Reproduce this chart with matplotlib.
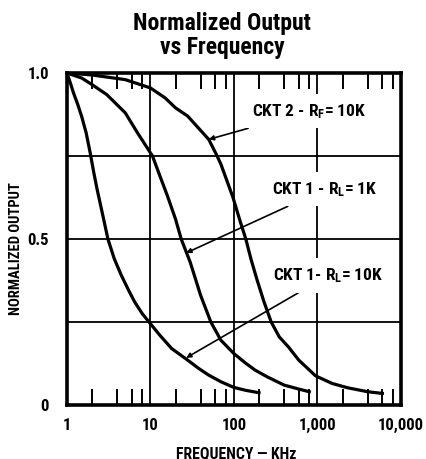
import matplotlib
matplotlib.use("Agg")
import matplotlib.pyplot as plt
from matplotlib import font_manager

# Police étroite et grasse si disponible
names = {f.name for f in font_manager.fontManager.ttflist}
FONT = "DejaVu Sans"
for cand in ["Liberation Sans Narrow", "Roboto Condensed", "Open Sans Condensed", "Roboto"]:
    if cand in names:
        FONT = cand
        break
plt.rcParams["font.family"] = [FONT, "DejaVu Sans"]
plt.rcParams["font.weight"] = "bold"
plt.rcParams["mathtext.fontset"] = "custom"
plt.rcParams["mathtext.rm"] = FONT + ":bold"
plt.rcParams["mathtext.it"] = FONT + ":bold"
plt.rcParams["mathtext.bf"] = FONT + ":bold"

# Courbes (fréquence en kHz, sortie normalisée)
freq_rl10k = [1, 1.1, 1.2, 1.35, 1.5, 1.7, 1.9, 2.1, 2.3, 2.7, 3.1, 3.7, 4.5, 5.5, 6.5,
              8, 10, 13, 18, 27, 38, 50, 70, 100, 140, 200]
out_rl10k = [1.0, 0.97, 0.94, 0.905, 0.87, 0.82, 0.76, 0.70, 0.65, 0.57, 0.5, 0.44, 0.39,
             0.345, 0.31, 0.275, 0.245, 0.21, 0.17, 0.138, 0.11, 0.09, 0.07, 0.053, 0.044, 0.037]

freq_rl1k = [1, 1.5, 2, 3, 5, 7, 10.6, 13, 16, 20, 23.4, 30, 40, 53, 70, 100, 140, 180,
             250, 400, 600, 800]
out_rl1k = [1.0, 0.985, 0.965, 0.935, 0.88, 0.82, 0.75, 0.69, 0.63, 0.56, 0.5, 0.43, 0.33,
            0.25, 0.195, 0.155, 0.125, 0.105, 0.085, 0.06, 0.048, 0.04]

freq_rf10k = [1, 2, 5, 10, 15, 20, 28, 35, 50, 63, 70, 97, 120, 139, 160, 190, 230, 280,
              350, 450, 600, 950, 1500, 2300, 4000, 6000]
out_rf10k = [1.0, 0.994, 0.98, 0.955, 0.925, 0.895, 0.87, 0.843, 0.8, 0.75, 0.725, 0.627,
             0.55, 0.5, 0.44, 0.376, 0.31, 0.25, 0.205, 0.175, 0.135, 0.088, 0.065, 0.052,
             0.04, 0.035]

x_ticks = [1, 10, 100, 1000, 10000]
x_tick_labels = ["1", "10", "100", "1,000", "10,000"]
y_ticks = [0, 0.5, 1.0]
y_tick_labels = ["0", "0.5", "1.0"]
x_minor = [m * 10 ** d for d in range(4) for m in (2, 4, 6, 8)]
x_grid = [10, 100, 1000]
y_grid = [0.25, 0.5, 0.75]

fig = plt.figure(figsize=(4.26, 4.59), dpi=100)
ax = fig.add_axes([0.157, 0.1176, 0.784, 0.7234])

for x in x_grid:
    ax.axvline(x, color="black", lw=1.3, zorder=1)
for y in y_grid:
    ax.axhline(y, color="black", lw=1.3, zorder=1)

ax.plot(freq_rl10k, out_rl10k, color="black", lw=2.3, zorder=3)
ax.plot(freq_rl1k, out_rl1k, color="black", lw=2.3, zorder=3)
ax.plot(freq_rf10k, out_rf10k, color="black", lw=2.3, zorder=3)

ax.set_xscale("log")
ax.set_xlim(1, 10000)
ax.set_ylim(0, 1.0)

ax.set_xticks(x_ticks)
ax.set_xticklabels(x_tick_labels)
ax.set_xticks(x_minor, minor=True)
ax.set_xticklabels([], minor=True)
ax.set_yticks(y_ticks)
ax.set_yticklabels(y_tick_labels)
ax.tick_params(axis="x", which="major", length=0, pad=9, labelsize=12)
ax.tick_params(axis="y", which="major", length=0, pad=13, labelsize=12)
ax.tick_params(axis="x", which="minor", direction="in", length=11.5, width=1.4,
               top=True, bottom=True)

for s in ax.spines.values():
    s.set_linewidth(2.6)
    s.set_zorder(6)

ax.set_xlabel("FREQUENCY — KHz", fontsize=11.3, fontweight="bold")
ax.xaxis.set_label_coords(0.507, -0.122)
ax.set_ylabel("NORMALIZED OUTPUT", fontsize=10.5, fontweight="bold")
ax.yaxis.set_label_coords(-0.13, 0.47)

fig.text(0.521, 0.923, "Normalized Output\nvs Frequency", ha="center", va="center",
         fontsize=17, fontweight="bold", linespacing=1.05)

# Annotations avec flèches
arrow = dict(arrowstyle="-|>", color="black", lw=1.2, mutation_scale=7,
             shrinkA=0, shrinkB=0)
box = dict(boxstyle="square,pad=0.45", fc="white", ec="none")
ax.annotate(r"CKT 2 - R$_\mathrm{F}$= 10K", xy=(50, 0.80), xytext=(165, 0.885),
            fontsize=12.5, ha="left", va="center", arrowprops=arrow, bbox=box, zorder=4)
ax.annotate(r"CKT 1 - R$_\mathrm{L}$= 1K", xy=(26.8, 0.458), xytext=(290, 0.65),
            fontsize=12.5, ha="left", va="center", arrowprops=arrow, bbox=box, zorder=4)
ax.annotate(r"CKT 1- R$_\mathrm{L}$= 10K", xy=(26.8, 0.142), xytext=(295, 0.39),
            fontsize=12.5, ha="left", va="center", arrowprops=arrow, bbox=box, zorder=4)

fig.savefig("out.png", dpi=100)
